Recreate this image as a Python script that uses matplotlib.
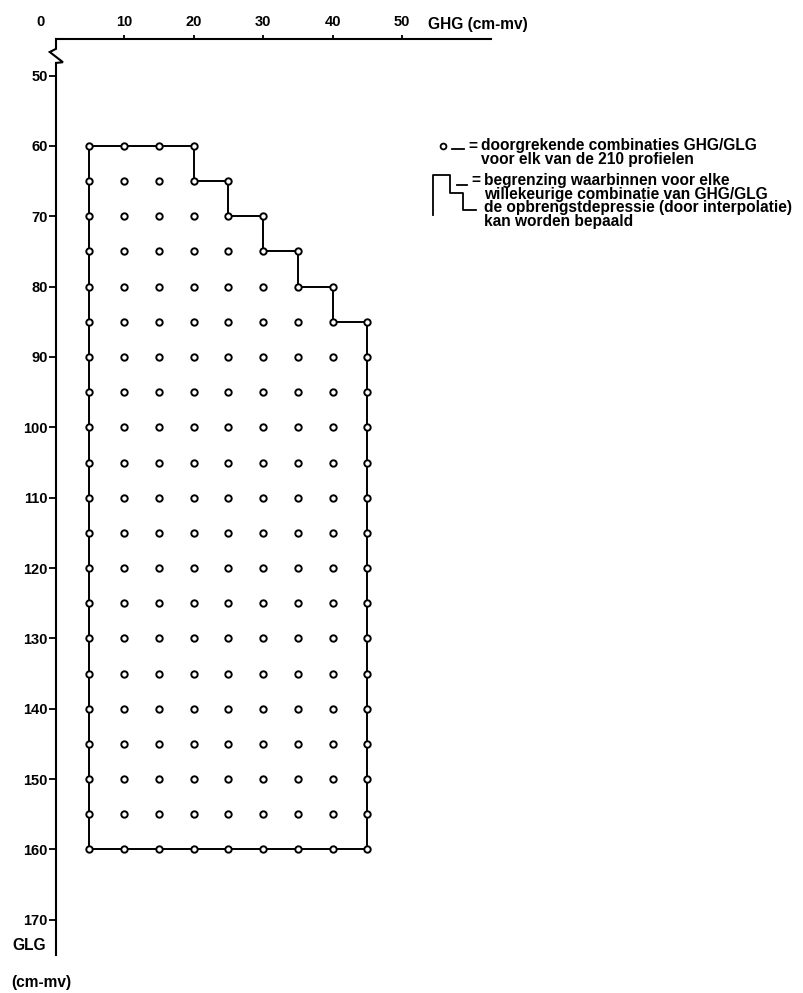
import matplotlib
matplotlib.use("Agg")
import matplotlib.pyplot as plt
from matplotlib.lines import Line2D

plt.rcParams['font.family'] = ['Liberation Sans', 'DejaVu Sans']
plt.rcParams['font.weight'] = 'bold'
plt.rcParams['font.size'] = 10.5

# GHG values of the computed grid (cm below surface)
ghg = [5, 10, 15, 20, 25, 30, 35, 40, 45]
# shallowest GLG computed for each GHG column (upper staircase)
glg_top = [60, 60, 60, 60, 65, 70, 75, 80, 85]
glg_bottom = 160
glg_levels = [60, 65, 70, 75, 80, 85, 90, 95, 100, 105, 110, 115, 120,
              125, 130, 135, 140, 145, 150, 155, 160]

x_ticks = [10, 20, 30, 40, 50]
y_ticks = [50, 60, 70, 80, 90, 100, 110, 120, 130, 140, 150, 160, 170]

W, H = 804, 993
fig = plt.figure(figsize=(W / 100, H / 100), dpi=100)


def fx(px):
    return px / W


def fy(py):
    return 1 - py / H


ax = fig.add_axes([fx(56), fy(955), (491 - 56) / W, (955 - 39) / H])
ax.set_xlim(0.2, 62.8)
ax.set_ylim(175, 44.8)

# grid points inside the boundary
px, py = [], []
for g, top in zip(ghg, glg_top):
    for v in glg_levels:
        if v >= top:
            px.append(g)
            py.append(v)

# boundary: staircase on top, then right side, bottom and left side
ax.plot(ghg, glg_top, color='black', lw=1.4, drawstyle='steps-pre', zorder=2)
ax.plot([ghg[-1], ghg[-1], ghg[0], ghg[0]],
        [glg_top[-1], glg_bottom, glg_bottom, glg_top[0]],
        color='black', lw=1.4, zorder=2)
ax.plot(px, py, 'o', ms=4.6, mfc='white', mec='black', mew=1.4, zorder=3,
        linestyle='none')

# axes: top spine plus a broken left axis
for s in ['right', 'bottom', 'left']:
    ax.spines[s].set_visible(False)
ax.spines['top'].set_linewidth(1.5)
ax.plot([0.2, 0.2, -0.7, 1.2, 0.2, 0.2],
        [44.8, 46.2, 46.65, 48.1, 48.2, 175],
        color='black', lw=1.5, clip_on=False, solid_joinstyle='miter')

ax.xaxis.tick_top()
ax.set_xticks(x_ticks)
ax.set_xticklabels([str(t) for t in x_ticks])
ax.tick_params(axis='x', direction='out', length=3, width=1.3, pad=4)
ax.set_yticks(y_ticks)
ax.set_yticklabels([str(t) for t in y_ticks])
ax.tick_params(axis='y', direction='out', length=5, width=1.3, pad=1)

tk = dict(fontsize=11.2)
fig.text(fx(41), fy(22), '0', ha='center', va='center', fontsize=10.5)
fig.text(fx(428), fy(25), 'GHG (cm-mv)', ha='left', va='center', **tk)
fig.text(fx(12), fy(946), 'GLG', ha='left', va='center', **tk)
fig.text(fx(11), fy(983), '(cm-mv)', ha='left', va='center', **tk)

# legend, drawn by hand
lk = dict(color='black', lw=1.3, transform=fig.transFigure)
fig.add_artist(Line2D([fx(443)], [fy(146)], marker='o', ms=4.2, mfc='white',
                      mec='black', mew=1.3, transform=fig.transFigure))
fig.add_artist(Line2D([fx(452), fx(464)], [fy(149), fy(149)], **lk))
fig.text(fx(468), fy(146), '=', ha='left', va='center', **tk)
fig.text(fx(481), fy(152.5),
         'doorgrekende combinaties GHG/GLG\nvoor elk van de 210 profielen',
         ha='left', va='center', linespacing=0.9, **tk)

fig.add_artist(Line2D([fx(433), fx(433), fx(450), fx(450), fx(463), fx(463), fx(476)],
                      [fy(215), fy(175), fy(175), fy(193), fy(193), fy(210), fy(210)],
                      **lk))
fig.add_artist(Line2D([fx(457), fx(467)], [fy(185), fy(185)], **lk))
fig.text(fx(471), fy(180), '=', ha='left', va='center', **tk)
fig.text(fx(484), fy(201),
         'begrenzing waarbinnen voor elke\nwillekeurige combinatie van GHG/GLG\n'
         'de opbrengstdepressie (door interpolatie)\nkan worden bepaald',
         ha='left', va='center', linespacing=0.9, **tk)

fig.savefig('out.png', dpi=100)
